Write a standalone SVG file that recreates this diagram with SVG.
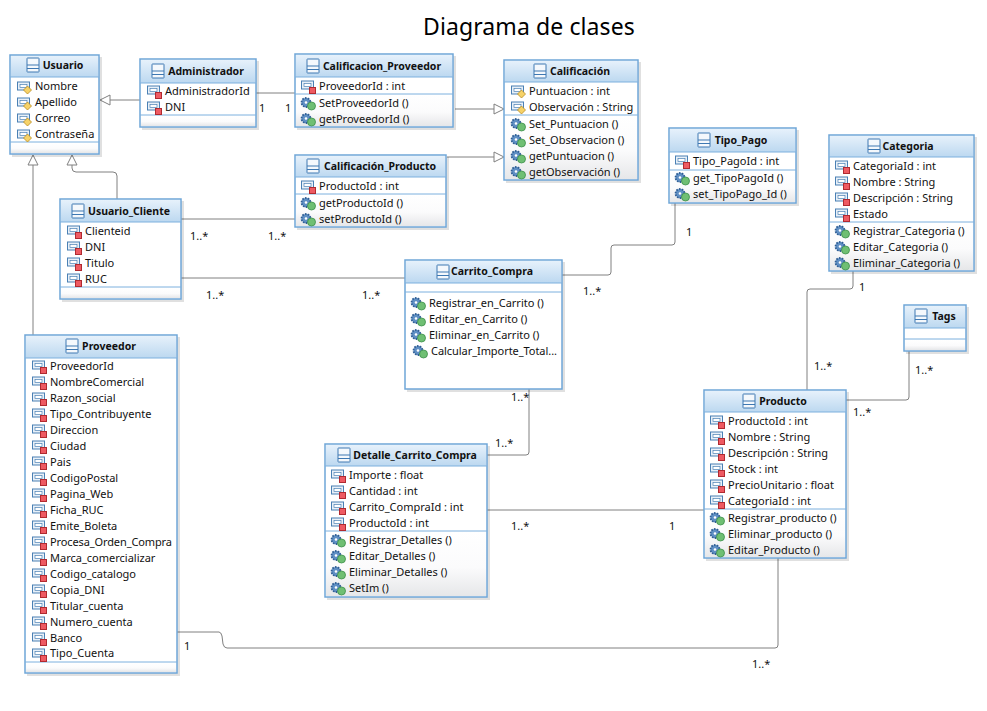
<svg xmlns="http://www.w3.org/2000/svg" width="987" height="711" viewBox="0 0 987 711">
<style>
text{font-family:"Noto Sans","DejaVu Sans",sans-serif;font-size:11px;fill:#111}
.n{font-weight:700;text-anchor:middle;font-size:10.5px}
.box{fill:#fff;stroke:#6fa6d8;stroke-width:1.5}
.hd{fill:url(#hg)}
.dv{stroke:#7cb0de;stroke-width:1;fill:none}
.sh{fill:#000;opacity:.12}
.c{fill:none;stroke:#808080;stroke-width:1}
.a{fill:#fff;stroke:#808080;stroke-width:1}
.title{font-size:23px;text-anchor:middle;fill:#000;letter-spacing:.1px}
.bt{fill:url(#bg)}
</style>
<defs>
<linearGradient id="hg" x1="0" y1="0" x2="0" y2="1"><stop offset="0" stop-color="#e6f1fb"/><stop offset="1" stop-color="#bcd8f0"/></linearGradient>
<linearGradient id="bg" x1="0" y1="0" x2="0" y2="1"><stop offset="0" stop-color="#ffffff"/><stop offset=".55" stop-color="#fbfbfc"/><stop offset="1" stop-color="#e6e7e9"/></linearGradient>
<g id="ci"><rect x="-6" y="-7" width="12" height="14" rx="0.5" fill="#f4f8fc" stroke="#3e78b2"/><path d="M-6 0h12M-6 3.500h12" stroke="#3e78b2" fill="none"/></g>
<g id="f"><rect x="-6.5" y="-5" width="12" height="8" fill="#e8f0f8" stroke="#4a80b4"/><rect x="-4" y="-2.500" width="7" height="3" fill="#fff" stroke="#4a80b4" stroke-width=".7"/></g>
<g id="r"><use href="#f"/><rect x="1.500" y="1.500" width="6" height="6" fill="#ee5a62" stroke="#b02a30"/></g>
<g id="y"><use href="#f"/><path d="M3.500 -1L7.500 3L3.500 7L-.5 3Z" fill="#f6d268" stroke="#b88a20" stroke-width=".8"/></g>
<g id="m"><circle cx="-2" cy="-.5" r="4.500" fill="#5f8fc4" stroke="#2f5e94" stroke-width="1.800" stroke-dasharray="1.600 1.200"/><circle cx="-2" cy="-.5" r="1.300" fill="#fff"/><circle cx="3.500" cy="3" r="4" fill="#6fbf73" stroke="#3c8f4a" stroke-width=".8"/></g>
</defs>

<text class="title" x="529" y="35">Diagrama de clases</text>

<g id="connectors">
<path class="c" d="M140 100H110"/><path class="a" d="M100 100L110 95V105Z"/>
<path class="c" d="M117 199V176Q117 172 113 172H76Q72 172 72 168V165"/><path class="a" d="M72 155L67 165H77Z"/>
<path class="c" d="M33 335V165"/><path class="a" d="M33 155L28 165H38Z"/>
<path class="c" d="M256 93H295"/>
<path class="c" d="M455 109H494"/><path class="a" d="M504 109L494 104V114Z"/>
<path class="c" d="M447 157H494"/><path class="a" d="M504 157L494 152V162Z"/>
<path class="c" d="M181 219H295"/>
<path class="c" d="M181 278H405"/>
<path class="c" d="M562 275H608Q611 275 611 272V248Q611 245 614 245H672Q675 245 675 242V203"/>
<path class="c" d="M807 390V292Q807 289 810 289H850Q853 289 853 286V271"/>
<path class="c" d="M846 400H906Q909 400 909 397V351"/>
<path class="c" d="M529 389V452Q529 455 526 455H487"/>
<path class="c" d="M487 510H704"/>
<path class="c" d="M177 632H219Q221 632 222 636L223 644Q224 648 227 648H775Q778 648 778 645V558"/>
</g>
<g id="labels">
<text x="259" y="112">1</text><text x="285" y="112">1</text>
<text x="190" y="240">1..*</text><text x="268" y="240">1..*</text>
<text x="206" y="299">1..*</text><text x="362" y="299">1..*</text>
<text x="583" y="295">1..*</text><text x="686" y="236">1</text>
<text x="859" y="291">1</text><text x="814" y="370">1..*</text>
<text x="853" y="416">1..*</text><text x="915" y="374">1..*</text>
<text x="511" y="401">1..*</text><text x="495" y="447">1..*</text>
<text x="511" y="530">1..*</text><text x="669" y="530">1</text>
<text x="184" y="650">1</text><text x="752" y="668">1..*</text>
</g>

<g id="usuario"><rect class="sh" x="12" y="57" width="90" height="100"/><rect class="box" x="10" y="55" width="89" height="99"/><rect class="hd" x="11" y="56" width="87" height="21"/><path class="dv" d="M10 77H99M10 142H99"/><rect class="bt" x="11" y="143" width="87" height="10"/>
<use href="#ci" x="33" y="65"/><text class="n" x="63" y="69">Usuario</text>
<use href="#y" x="24" y="87"/><text x="35" y="90">Nombre</text>
<use href="#y" x="24" y="103"/><text x="35" y="106">Apellido</text>
<use href="#y" x="24" y="119"/><text x="35" y="122">Correo</text>
<use href="#y" x="24" y="135"/><text x="35" y="138">Contraseña</text></g>

<g id="administrador"><rect class="sh" x="142" y="61" width="117" height="69"/><rect class="box" x="140" y="59" width="116" height="68"/><rect class="hd" x="141" y="60" width="114" height="23"/><path class="dv" d="M140 83H256M140 115H256"/><rect class="bt" x="141" y="116" width="114" height="10"/>
<use href="#ci" x="158" y="71"/><text class="n" x="206" y="75">Administrador</text>
<use href="#r" x="154" y="91"/><text x="165" y="95">AdministradorId</text>
<use href="#r" x="154" y="107"/><text x="165" y="111">DNI</text></g>

<g id="calificacion_proveedor"><rect class="sh" x="297" y="56" width="159" height="74"/><rect class="box" x="295" y="54" width="158" height="73"/><rect class="hd" x="296" y="55" width="156" height="22"/><path class="dv" d="M295 77H453M295 94H453"/><rect class="bt" x="296" y="95" width="156" height="31"/>
<use href="#ci" x="313" y="66"/><text class="n" x="382" y="70">Calificacion_Proveedor</text>
<use href="#r" x="308" y="86"/><text x="319" y="90">ProveedorId : int</text>
<use href="#m" x="308" y="103"/><text x="319" y="107">SetProveedorId ()</text>
<use href="#m" x="308" y="119"/><text x="319" y="123">getProveedorId ()</text></g>

<g id="calificacion"><rect class="sh" x="506" y="62" width="135" height="121"/><rect class="box" x="504" y="60" width="134" height="120"/><rect class="hd" x="505" y="61" width="132" height="21"/><path class="dv" d="M504 82H638M504 115H638"/><rect class="bt" x="505" y="116" width="132" height="63"/>
<use href="#ci" x="540" y="71"/><text class="n" x="580" y="75">Calificación</text>
<use href="#y" x="518" y="91"/><text x="529" y="95">Puntuacion : int</text>
<use href="#y" x="518" y="107"/><text x="529" y="111">Observación : String</text>
<use href="#m" x="518" y="124"/><text x="529" y="128">Set_Puntuacion ()</text>
<use href="#m" x="518" y="140"/><text x="529" y="144">Set_Observacion ()</text>
<use href="#m" x="518" y="156"/><text x="529" y="160">getPuntuacion ()</text>
<use href="#m" x="518" y="172"/><text x="529" y="176">getObservación ()</text></g>

<g id="calificacion_producto"><rect class="sh" x="297" y="157" width="152" height="73"/><rect class="box" x="295" y="155" width="151" height="72"/><rect class="hd" x="296" y="156" width="149" height="21"/><path class="dv" d="M295 177H446M295 194H446"/><rect class="bt" x="296" y="195" width="149" height="31"/>
<use href="#ci" x="313" y="166"/><text class="n" x="380" y="170">Calificación_Producto</text>
<use href="#r" x="308" y="186"/><text x="319" y="190">ProductoId : int</text>
<use href="#m" x="308" y="203"/><text x="319" y="207">getProductoId ()</text>
<use href="#m" x="308" y="219"/><text x="319" y="223">setProductoId ()</text></g>

<g id="tipo_pago"><rect class="sh" x="671" y="130" width="128" height="76"/><rect class="box" x="669" y="128" width="127" height="75"/><rect class="hd" x="670" y="129" width="125" height="23"/><path class="dv" d="M669 152H796M669 170H796"/><rect class="bt" x="670" y="171" width="125" height="31"/>
<use href="#ci" x="704" y="140"/><text class="n" x="741" y="144">Tipo_Pago</text>
<use href="#r" x="682" y="161"/><text x="693" y="165">Tipo_PagoId : int</text>
<use href="#m" x="682" y="178"/><text x="693" y="182">get_TipoPagoId ()</text>
<use href="#m" x="682" y="194"/><text x="693" y="198">set_TipoPago_Id ()</text></g>

<g id="categoria"><rect class="sh" x="831" y="137" width="146" height="137"/><rect class="box" x="829" y="135" width="145" height="136"/><rect class="hd" x="830" y="136" width="143" height="21"/><path class="dv" d="M829 157H974M829 222H974"/><rect class="bt" x="830" y="223" width="143" height="47"/>
<use href="#ci" x="874" y="146"/><text class="n" x="908" y="150">Categoria</text>
<use href="#r" x="842" y="166"/><text x="853" y="170">CategoriaId : int</text>
<use href="#r" x="842" y="182"/><text x="853" y="186">Nombre : String</text>
<use href="#r" x="842" y="198"/><text x="853" y="202">Descripción : String</text>
<use href="#r" x="842" y="214"/><text x="853" y="218">Estado</text>
<use href="#m" x="842" y="231"/><text x="853" y="235">Registrar_Categoria ()</text>
<use href="#m" x="842" y="247"/><text x="853" y="251">Editar_Categoria ()</text>
<use href="#m" x="842" y="263"/><text x="853" y="267">Eliminar_Categoria ()</text></g>

<g id="tags"><rect class="sh" x="906" y="307" width="63" height="47"/><rect class="box" x="904" y="305" width="62" height="46"/><rect class="hd" x="905" y="306" width="60" height="22"/><path class="dv" d="M904 328H966M904 339H966"/><rect class="bt" x="905" y="340" width="60" height="10"/>
<use href="#ci" x="921" y="316"/><text class="n" x="944" y="320">Tags</text></g>

<g id="usuario_cliente"><rect class="sh" x="62" y="201" width="122" height="101"/><rect class="box" x="60" y="199" width="121" height="100"/><rect class="hd" x="61" y="200" width="119" height="22"/><path class="dv" d="M60 222H181M60 287H181"/><rect class="bt" x="61" y="288" width="119" height="10"/>
<use href="#ci" x="78" y="211"/><text class="n" x="129" y="215">Usuario_Cliente</text>
<use href="#r" x="74" y="231"/><text x="85" y="235">Clienteid</text>
<use href="#r" x="74" y="247"/><text x="85" y="251">DNI</text>
<use href="#r" x="74" y="263"/><text x="85" y="267">Titulo</text>
<use href="#r" x="74" y="279"/><text x="85" y="283">RUC</text></g>

<g id="carrito_compra"><rect class="sh" x="407" y="262" width="158" height="130"/><rect class="box" x="405" y="260" width="157" height="129"/><rect class="hd" x="406" y="261" width="155" height="22"/><path class="dv" d="M405 283H562M405 292H562"/>
<use href="#ci" x="443" y="272"/><text class="n" x="492" y="275">Carrito_Compra</text>
<use href="#m" x="418" y="303"/><text x="429" y="307">Registrar_en_Carrito ()</text>
<use href="#m" x="418" y="319"/><text x="429" y="323">Editar_en_Carrito ()</text>
<use href="#m" x="418" y="335"/><text x="429" y="339">Eliminar_en_Carrito ()</text>
<use href="#m" x="420" y="351"/><text x="431" y="355" textLength="126">Calcular_Importe_Total...</text></g>

<g id="proveedor"><rect class="sh" x="27" y="337" width="153" height="339"/><rect class="box" x="25" y="335" width="152" height="338"/><rect class="hd" x="26" y="336" width="150" height="22"/><path class="dv" d="M25 358H177M25 662H177"/><rect class="bt" x="26" y="663" width="150" height="9"/>
<use href="#ci" x="72" y="346"/><text class="n" x="109" y="350">Proveedor</text>
<use href="#r" x="39" y="366"/><text x="50" y="370">ProveedorId</text>
<use href="#r" x="39" y="382"/><text x="50" y="386">NombreComercial</text>
<use href="#r" x="39" y="398"/><text x="50" y="402">Razon_social</text>
<use href="#r" x="39" y="414"/><text x="50" y="418">Tipo_Contribuyente</text>
<use href="#r" x="39" y="430"/><text x="50" y="434">Direccion</text>
<use href="#r" x="39" y="446"/><text x="50" y="450">Ciudad</text>
<use href="#r" x="39" y="462"/><text x="50" y="466">Pais</text>
<use href="#r" x="39" y="478"/><text x="50" y="482">CodigoPostal</text>
<use href="#r" x="39" y="494"/><text x="50" y="498">Pagina_Web</text>
<use href="#r" x="39" y="510"/><text x="50" y="514">Ficha_RUC</text>
<use href="#r" x="39" y="526"/><text x="50" y="530">Emite_Boleta</text>
<use href="#r" x="39" y="542"/><text x="50" y="546" textLength="122">Procesa_Orden_Compra</text>
<use href="#r" x="39" y="558"/><text x="50" y="562">Marca_comercializar</text>
<use href="#r" x="39" y="574"/><text x="50" y="578">Codigo_catalogo</text>
<use href="#r" x="39" y="590"/><text x="50" y="594">Copia_DNI</text>
<use href="#r" x="39" y="606"/><text x="50" y="610">Titular_cuenta</text>
<use href="#r" x="39" y="622"/><text x="50" y="626">Numero_cuenta</text>
<use href="#r" x="39" y="638"/><text x="50" y="642">Banco</text>
<use href="#r" x="39" y="654"/><text x="50" y="657">Tipo_Cuenta</text></g>

<g id="detalle_carrito_compra"><rect class="sh" x="327" y="446" width="163" height="154"/><rect class="box" x="325" y="444" width="162" height="153"/><rect class="hd" x="326" y="445" width="160" height="21"/><path class="dv" d="M325 466H487M325 531H487"/><rect class="bt" x="326" y="532" width="160" height="64"/>
<use href="#ci" x="344" y="455"/><text class="n" x="415" y="459">Detalle_Carrito_Compra</text>
<use href="#r" x="338" y="475"/><text x="349" y="479">Importe : float</text>
<use href="#r" x="338" y="491"/><text x="349" y="495">Cantidad : int</text>
<use href="#r" x="338" y="507"/><text x="349" y="511">Carrito_CompraId : int</text>
<use href="#r" x="338" y="523"/><text x="349" y="527">ProductoId : int</text>
<use href="#m" x="338" y="540"/><text x="349" y="544">Registrar_Detalles ()</text>
<use href="#m" x="338" y="556"/><text x="349" y="560">Editar_Detalles ()</text>
<use href="#m" x="338" y="572"/><text x="349" y="576">Eliminar_Detalles ()</text>
<use href="#m" x="338" y="588"/><text x="349" y="592">SetIm ()</text></g>

<g id="producto"><rect class="sh" x="706" y="392" width="143" height="169"/><rect class="box" x="704" y="390" width="142" height="168"/><rect class="hd" x="705" y="391" width="140" height="21"/><path class="dv" d="M704 412H846M704 509H846"/><rect class="bt" x="705" y="510" width="140" height="47"/>
<use href="#ci" x="749" y="401"/><text class="n" x="783" y="405">Producto</text>
<use href="#r" x="717" y="421"/><text x="728" y="425">ProductoId : int</text>
<use href="#r" x="717" y="437"/><text x="728" y="441">Nombre : String</text>
<use href="#r" x="717" y="453"/><text x="728" y="457">Descripción : String</text>
<use href="#r" x="717" y="469"/><text x="728" y="473">Stock : int</text>
<use href="#r" x="717" y="485"/><text x="728" y="489">PrecioUnitario : float</text>
<use href="#r" x="717" y="501"/><text x="728" y="505">CategoriaId : int</text>
<use href="#m" x="717" y="518"/><text x="728" y="522">Registrar_producto ()</text>
<use href="#m" x="717" y="534"/><text x="728" y="538">Eliminar_producto ()</text>
<use href="#m" x="717" y="550"/><text x="728" y="554">Editar_Producto ()</text></g>
</svg>
